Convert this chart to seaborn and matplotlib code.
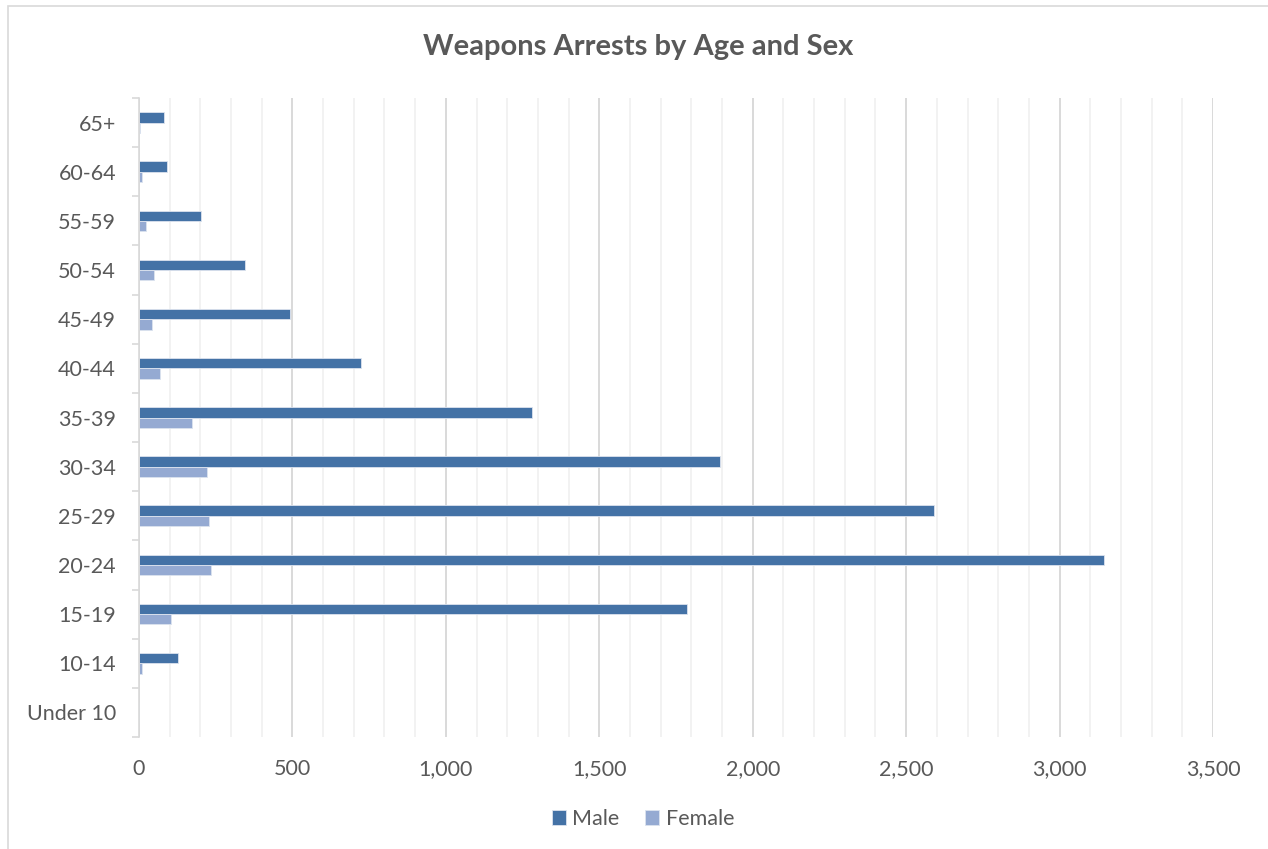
import matplotlib
matplotlib.use("Agg")
import matplotlib.pyplot as plt
import seaborn as sns
import pandas as pd
from matplotlib.patches import Rectangle
from matplotlib.ticker import MultipleLocator, FuncFormatter

categories = ["65+", "60-64", "55-59", "50-54", "45-49", "40-44", "35-39",
              "30-34", "25-29", "20-24", "15-19", "10-14", "Under 10"]
male = [82, 92, 203, 345, 491, 724, 1282, 1892, 2590, 3146, 1785, 127, 0]
female = [2, 10, 22, 49, 41, 68, 172, 220, 227, 235, 105, 11, 0]
series = ["Male", "Female"]
colors = ["#4472A6", "#95AAD2"]
title = "Weapons Arrests by Age and Sex"

df = pd.DataFrame({
    "Age": categories * 2,
    "Sex": ["Male"] * len(categories) + ["Female"] * len(categories),
    "Arrests": male + female,
})

sns.set_style("white")
plt.rcParams["font.family"] = ["Lato", "DejaVu Sans"]
text_color = "#595959"

fig = plt.figure(figsize=(12.68, 8.49), dpi=100)
ax = fig.add_axes([139 / 1268, 1 - 737 / 849, (1213 - 139) / 1268, (737 - 98) / 849])

sns.barplot(data=df, y="Age", x="Arrests", hue="Sex", order=categories,
            hue_order=series, palette=colors, orient="h", width=0.42,
            saturation=1, edgecolor="#DCE3EE", linewidth=0.6, ax=ax, legend=True)

ax.set_xlim(0, 3500)
ax.set_ylim(len(categories) - 0.5, -0.5)
ax.xaxis.set_major_locator(MultipleLocator(500))
ax.xaxis.set_minor_locator(MultipleLocator(100))
ax.xaxis.set_major_formatter(FuncFormatter(lambda v, p: f"{int(v):,}"))
ax.grid(True, which="major", axis="x", color="#D9D9D9", linewidth=1.4)
ax.grid(True, which="minor", axis="x", color="#F2F2F2", linewidth=1.4)
ax.grid(False, axis="y")
ax.set_axisbelow(True)

for s in ["top", "right", "bottom"]:
    ax.spines[s].set_visible(False)
ax.spines["left"].set_color("#D9D9D9")
ax.spines["left"].set_linewidth(1.2)

ax.set_yticks([i - 0.5 for i in range(len(categories) + 1)], minor=True)
ax.tick_params(axis="y", which="minor", length=5, width=1.2, color="#D9D9D9", left=True)
ax.tick_params(axis="y", which="major", length=0, pad=16.5, labelsize=15.5, labelcolor=text_color)
ax.tick_params(axis="x", which="both", length=0, pad=16, labelsize=15.5, labelcolor=text_color)
ax.set_xlabel("")
ax.set_ylabel("")

handles, labels = ax.get_legend_handles_labels()
ax.get_legend().remove()
fig.legend(handles, labels, loc="center", bbox_to_anchor=(643 / 1268, 1 - 819 / 849),
           ncol=2, frameon=False, fontsize=15.5, handlelength=0.65, handleheight=0.65,
           handletextpad=0.3, columnspacing=1.2, labelcolor=text_color)

fig.text(638 / 1268, 1 - 47 / 849, title, ha="center", va="center",
         fontsize=21, fontweight="bold", color=text_color)

fig.patches.append(Rectangle((8 / 1268, -0.1), 1.2, 1 - 6 / 849 + 0.1,
                             transform=fig.transFigure, fill=False,
                             edgecolor="#D9D9D9", linewidth=1.2))

fig.savefig("out.png", dpi=100, facecolor="white")
